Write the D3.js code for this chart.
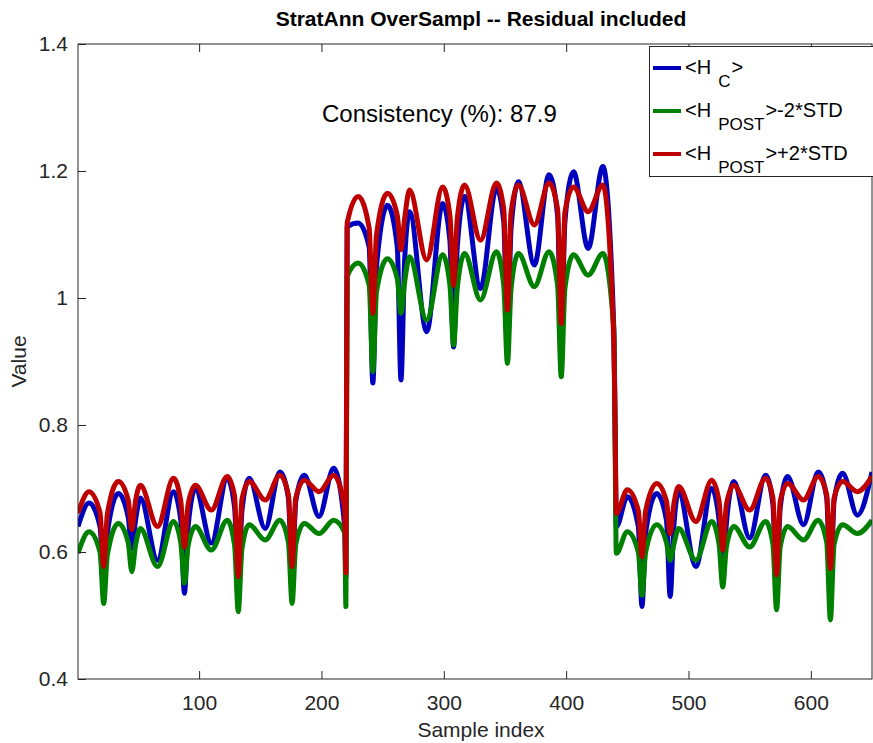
<!DOCTYPE html>
<html>
<head>
<meta charset="utf-8">
<script src="https://cdn.jsdelivr.net/npm/d3@7"></script>
<style>
  body { margin: 0; background: #fff; }
  text { font-family: "Liberation Sans", Arial, sans-serif; fill: #262626; }
</style>
</head>
<body>
<script>
// sample layout: three segments of the record
const segmentStarts = [1, 221, 441]
const segmentEnds = [220, 440, 650]
// knot positions inside a segment (peaks, dips and their shoulders)
const knotOffsets = [0, 9, 18, 21, 24, 33, 41, 44, 47, 51, 65, 78, 84, 87, 90, 96, 109, 122,
  128, 131, 134, 140, 153, 165, 172, 175, 178, 185, 197, 209, 218, 219]

// <H_C>
const hC = [
  0.640, 0.677, 0.640, 0.551, 0.630, 0.692, 0.655, 0.605, 0.650, 0.685, 0.587, 0.695, 0.650, 0.535, 0.640, 0.700,
  0.614, 0.716, 0.670, 0.545, 0.665, 0.716, 0.637, 0.726, 0.685, 0.560, 0.680, 0.721, 0.656, 0.732, 0.640, 0.560,
  1.112, 1.118, 1.080, 0.866, 1.050, 1.146, 1.080, 0.871, 1.060, 1.136, 0.947, 1.149, 1.090, 0.923, 1.080, 1.160,
  1.015, 1.173, 1.120, 0.940, 1.110, 1.183, 1.052, 1.194, 1.130, 0.930, 1.120, 1.199, 1.078, 1.207, 0.950, 0.800,
  0.640, 0.687, 0.640, 0.514, 0.630, 0.692, 0.650, 0.530, 0.640, 0.695, 0.577, 0.700, 0.650, 0.560, 0.645, 0.711,
  0.622, 0.721, 0.675, 0.550, 0.670, 0.719, 0.643, 0.726, 0.685, 0.540, 0.680, 0.724, 0.658, 0.726
]
// <H_POST> - 2*STD
const hPostLow = [
  0.598, 0.632, 0.600, 0.519, 0.595, 0.645, 0.615, 0.569, 0.610, 0.637, 0.577, 0.648, 0.615, 0.551, 0.610, 0.640,
  0.603, 0.650, 0.610, 0.506, 0.605, 0.643, 0.619, 0.650, 0.615, 0.519, 0.612, 0.645, 0.629, 0.650, 0.630, 0.514,
  1.034, 1.055, 1.020, 0.884, 1.010, 1.062, 1.030, 0.976, 1.025, 1.065, 0.965, 1.068, 1.020, 0.926, 1.015, 1.070,
  0.997, 1.073, 1.020, 0.897, 1.015, 1.070, 1.018, 1.073, 1.020, 0.876, 1.015, 1.068, 1.036, 1.070, 0.950, 0.780,
  0.598, 0.632, 0.600, 0.532, 0.600, 0.643, 0.615, 0.587, 0.612, 0.637, 0.587, 0.648, 0.612, 0.545, 0.608, 0.640,
  0.608, 0.648, 0.612, 0.509, 0.608, 0.640, 0.619, 0.650, 0.615, 0.493, 0.612, 0.643, 0.629, 0.650
]
// <H_POST> + 2*STD
const hPostHigh = [
  0.661, 0.695, 0.662, 0.577, 0.660, 0.711, 0.682, 0.635, 0.680, 0.705, 0.640, 0.716, 0.680, 0.608, 0.675, 0.705,
  0.666, 0.719, 0.688, 0.561, 0.683, 0.711, 0.682, 0.721, 0.690, 0.577, 0.685, 0.713, 0.695, 0.721, 0.668, 0.567,
  1.118, 1.160, 1.110, 0.976, 1.100, 1.165, 1.130, 1.076, 1.125, 1.170, 1.060, 1.175, 1.130, 1.020, 1.125, 1.178,
  1.091, 1.181, 1.140, 0.981, 1.135, 1.178, 1.115, 1.181, 1.140, 0.960, 1.135, 1.175, 1.136, 1.178, 0.930, 0.800,
  0.661, 0.698, 0.665, 0.593, 0.665, 0.708, 0.680, 0.629, 0.675, 0.703, 0.648, 0.713, 0.680, 0.603, 0.675, 0.705,
  0.666, 0.716, 0.685, 0.564, 0.680, 0.708, 0.682, 0.719, 0.690, 0.574, 0.685, 0.711, 0.695, 0.719
]

const xTicks = [100, 200, 300, 400, 500, 600]
const yTicks = [0.4, 0.6, 0.8, 1, 1.2, 1.4]
const yTickLabels = ['0.4', '0.6', '0.8', '1', '1.2', '1.4']
const consistency = 87.9

const sampleIdx = segmentStarts.flatMap((s, i) =>
  knotOffsets.map(o => s + o).filter(v => v <= segmentEnds[i]))

const width = 873
const height = 743
const margin = { left: 78, right: 1, top: 44, bottom: 64 }
const innerW = width - margin.left - margin.right
const innerH = height - margin.top - margin.bottom

const svg = d3.select('body').append('svg')
  .attr('width', width)
  .attr('height', height)

svg.append('defs').append('clipPath')
  .attr('id', 'plot-clip')
  .append('rect')
  .attr('width', innerW)
  .attr('height', innerH)

const g = svg.append('g')
  .attr('transform', `translate(${margin.left}, ${margin.top})`)

const xScale = d3.scaleLinear().domain([1, 650]).range([0, innerW])
const yScale = d3.scaleLinear().domain([0.4, 1.4]).range([innerH, 0])

const series = [
  { name: 'hC', values: hC, color: '#0000bf' },
  { name: 'low', values: hPostLow, color: '#008000' },
  { name: 'high', values: hPostHigh, color: '#bf0000' }
]

const line = d3.line()
  .x(d => xScale(d[0]))
  .y(d => yScale(d[1]))
  .curve(d3.curveMonotoneX)

g.append('g')
  .attr('clip-path', 'url(#plot-clip)')
  .selectAll('path')
  .data(series)
  .enter()
  .append('path')
  .attr('d', s => line(sampleIdx.map((x, i) => [x, s.values[i]])))
  .attr('fill', 'none')
  .attr('stroke', s => s.color)
  .attr('stroke-width', 5)
  .attr('stroke-linejoin', 'round')

// axes with inward ticks
const fixAxis = sel => {
  sel.select('.domain').remove()
  sel.selectAll('line').attr('stroke', '#262626')
  sel.selectAll('text')
    .attr('font-size', '21px')
    .attr('font-family', '"Liberation Sans", Arial, sans-serif')
    .attr('fill', '#262626')
}

g.append('g')
  .attr('transform', `translate(0, ${innerH})`)
  .call(d3.axisBottom(xScale).tickValues(xTicks).tickSize(-8).tickPadding(16))
  .call(fixAxis)

g.append('g')
  .call(d3.axisTop(xScale).tickValues(xTicks).tickSize(-8).tickFormat(''))
  .call(fixAxis)

g.append('g')
  .call(d3.axisLeft(yScale).tickValues(yTicks).tickSize(-8).tickPadding(10)
    .tickFormat((d, i) => yTickLabels[i]))
  .call(fixAxis)

g.append('rect')
  .attr('width', innerW)
  .attr('height', innerH)
  .attr('fill', 'none')
  .attr('stroke', '#262626')
  .attr('stroke-width', 1)

// texts
svg.append('text')
  .attr('x', 481)
  .attr('y', 26)
  .attr('text-anchor', 'middle')
  .attr('font-size', '21px')
  .attr('font-weight', 'bold')
  .style('fill', '#000')
  .text('StratAnn OverSampl -- Residual included')

svg.append('text')
  .attr('x', 481)
  .attr('y', 737)
  .attr('text-anchor', 'middle')
  .attr('font-size', '21px')
  .text('Sample index')

svg.append('text')
  .attr('transform', `translate(26, ${margin.top + innerH / 2}) rotate(-90)`)
  .attr('text-anchor', 'middle')
  .attr('font-size', '21px')
  .text('Value')

svg.append('text')
  .attr('x', 322)
  .attr('y', 122)
  .attr('font-size', '24px')
  .style('fill', '#000')
  .text(`Consistency (%): ${consistency}`)

// legend
const legendItems = [
  { sub: 'C', tail: '', color: '#0000bf' },
  { sub: 'POST', tail: '-2*STD', color: '#008000' },
  { sub: 'POST', tail: '+2*STD', color: '#bf0000' }
]
const legend = svg.append('g')
legend.append('rect')
  .attr('x', 649.5)
  .attr('y', 46.5)
  .attr('width', 260)
  .attr('height', 130)
  .attr('fill', '#fff')
  .attr('stroke', '#262626')

const rows = legend.selectAll('g.row')
  .data(legendItems)
  .enter()
  .append('g')
  .attr('class', 'row')
  .attr('transform', (d, i) => `translate(0, ${68 + i * 43})`)

rows.append('line')
  .attr('x1', 653)
  .attr('x2', 681)
  .attr('stroke', d => d.color)
  .attr('stroke-width', 4)

const lt = rows.append('text')
  .attr('x', 685)
  .attr('y', 6)
  .attr('font-size', '20px')
  .style('fill', '#000')
lt.append('tspan').text('<H')
lt.append('tspan').attr('dx', 7).attr('dy', 13).attr('font-size', '17px').text(d => d.sub)
lt.append('tspan').attr('dx', 1).attr('dy', -13).text(d => '>' + d.tail)
</script>
</body>
</html>
